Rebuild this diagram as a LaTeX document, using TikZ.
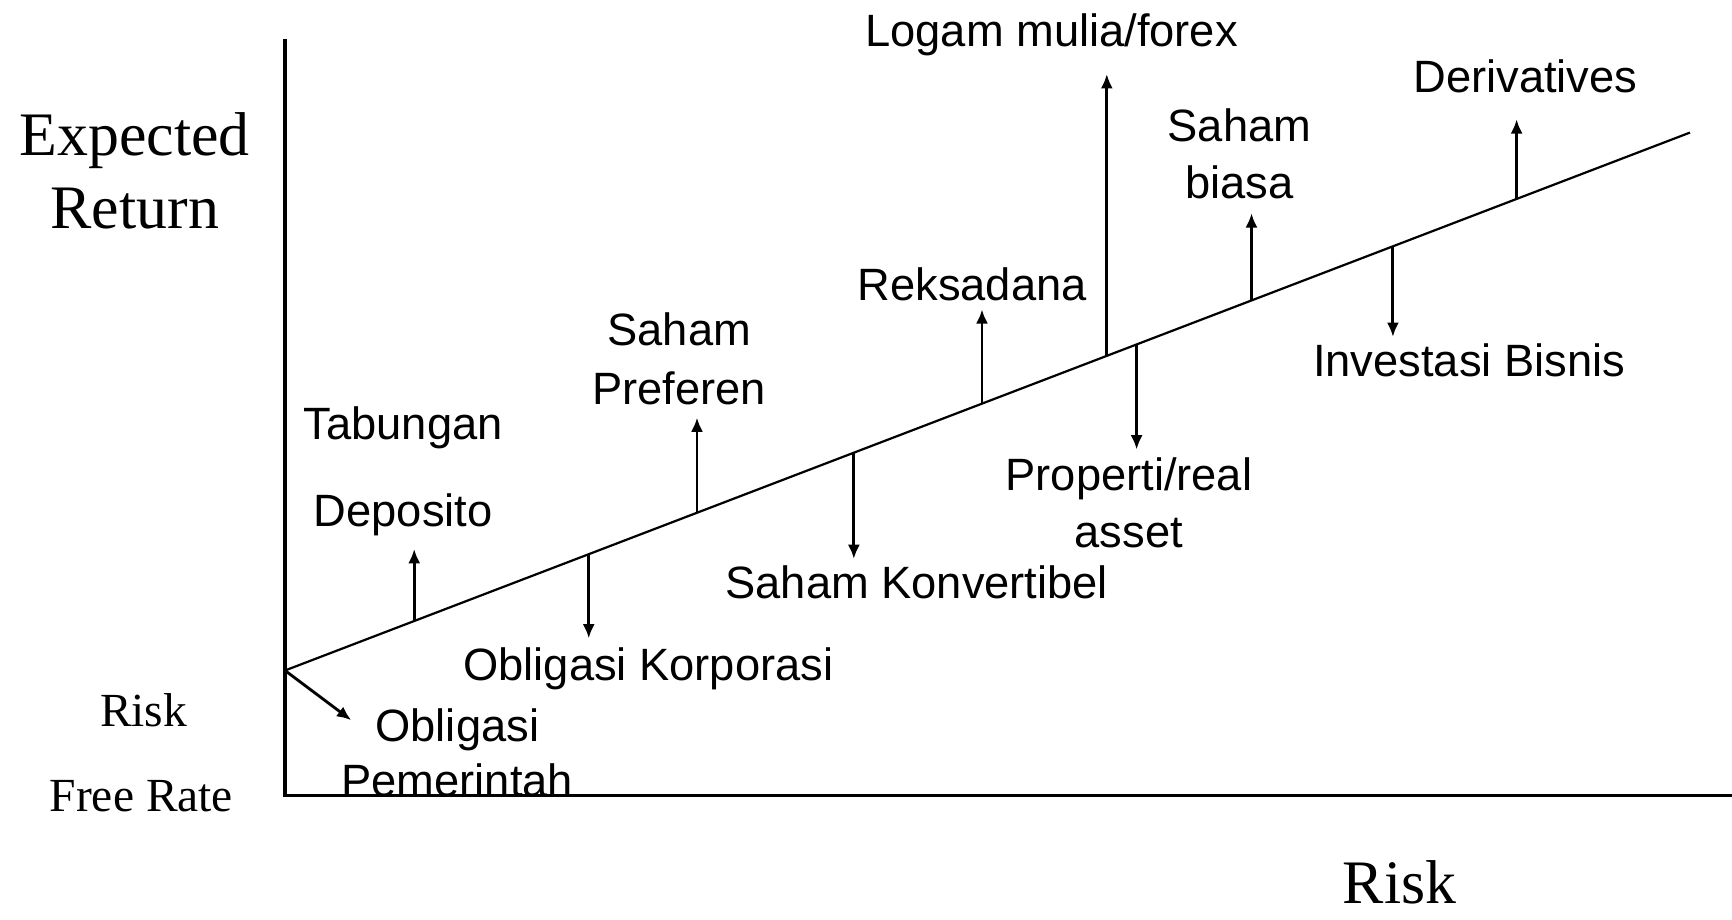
\documentclass[tikz,border=0pt]{standalone}
\usepackage{fontspec}
\setmainfont{Liberation Serif}
\newfontfamily\labfont{Liberation Sans}
\usetikzlibrary{arrows.meta}
\tikzset{
  lab/.style={anchor=base, inner sep=0pt, font=\labfont\fontsize{41}{48}\selectfont},
  serifbig/.style={anchor=base, inner sep=0pt, font=\fontsize{56}{65}\selectfont},
  serifsmall/.style={anchor=base, inner sep=0pt, font=\fontsize{43}{50}\selectfont},
  axis/.style={line width=3pt},
  sml/.style={line width=2pt},
  arr/.style={line width=2.6pt, -{Latex[length=13pt,width=11pt]}}
}
\begin{document}
\begin{tikzpicture}[x=1pt,y=-1pt]
\useasboundingbox (0,0) rectangle (1568,832);
% axis labels
\node[serifbig] (er1) at (122,141) {Expected};
\node[serifbig] (er2) at (122,207) {Return};
\node[serifsmall] (rf1) at (130,658) {Risk};
\node[serifsmall] (rf2) at (128,735) {Free Rate};
\node[serifbig] (rx) at (1267,818) {Risk};
% item labels
\node[lab] (logam) at (952,42) {Logam mulia/forex};
\node[lab] (deriv) at (1381,84) {Derivatives};
\node[lab] (biasa1) at (1122,128) {Saham};
\node[lab] (biasa2) at (1122,180) {biasa};
\node[lab] (reksa) at (880,272) {Reksadana};
\node[lab] (pref1) at (615,313) {Saham};
\node[lab] (pref2) at (615,366) {Preferen};
\node[lab] (invest) at (1330,341) {Investasi Bisnis};
\node[lab] (tabung) at (365,398) {Tabungan};
\node[lab] (depo) at (365,477) {Deposito};
\node[lab] (prop1) at (1022,444) {Properti/real};
\node[lab] (prop2) at (1022,496) {asset};
\node[lab] (konv) at (830,542) {Saham Konvertibel};
\node[lab] (korp) at (587,616) {Obligasi Korporasi};
\node[lab] (pem1) at (414,671) {Obligasi};
\node[lab] (pem2) at (414,721) {Pemerintah};
% axes
\coordinate (top) at (258,35);
\coordinate (orig) at (258,720);
\coordinate (right) at (1568,720);
\draw[axis] (top) -- (orig) -- (right);
% risk-return line
\coordinate (O) at (258,607);
\coordinate (E) at (1530,120);
\draw[sml] (O) -- (E);
% points on the line
\coordinate (pDepo) at (375,562.2);
\coordinate (pKorp) at (533,501.7);
\coordinate (pPref) at (631,464.2);
\coordinate (pKonv) at (773,409.8);
\coordinate (pReksa) at (889,365.4);
\coordinate (pLogam) at (1002,322.2);
\coordinate (pProp) at (1029,311.8);
\coordinate (pBiasa) at (1133,272);
\coordinate (pInv) at (1261,223);
\coordinate (pDer) at (1373,180.1);
% arrow tips
\coordinate (tDepo) at (375,497);
\coordinate (tKorp) at (533,578);
\coordinate (tPref) at (631,378);
\coordinate (tKonv) at (773,506);
\coordinate (tReksa) at (889,280);
\coordinate (tLogam) at (1002,67);
\coordinate (tProp) at (1029,407);
\coordinate (tBiasa) at (1133,193);
\coordinate (tInv) at (1261,305);
\coordinate (tDer) at (1373,108);
\coordinate (tPem) at (318,652);
\draw[arr] (pDepo) -- (tDepo);
\draw[arr] (pKorp) -- (tKorp);
\draw[arr] (pPref) -- (tPref);
\draw[arr] (pKonv) -- (tKonv);
\draw[arr] (pReksa) -- (tReksa);
\draw[arr] (pLogam) -- (tLogam);
\draw[arr] (pProp) -- (tProp);
\draw[arr] (pBiasa) -- (tBiasa);
\draw[arr] (pInv) -- (tInv);
\draw[arr] (pDer) -- (tDer);
\draw[arr] (O) -- (tPem);
\end{tikzpicture}
\end{document}
